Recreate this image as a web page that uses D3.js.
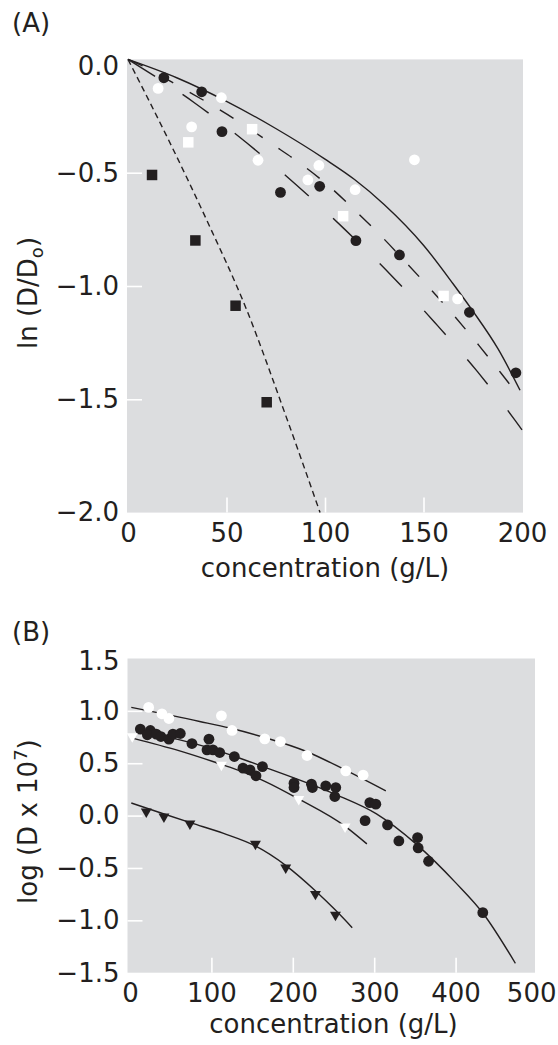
<!DOCTYPE html>
<html>
<head>
<meta charset="utf-8">
<script src="https://cdn.jsdelivr.net/npm/d3@7"></script>
<style>
  body { margin: 0; background: #fff; }
  svg { display: block; }
  text { font-family: "DejaVu Sans", sans-serif; font-size: 26px; fill: #231f20; }
</style>
</head>
<body>
<svg id="fig" width="558" height="1045"></svg>
<script>
// ---------- Panel A: ln(D/Do) against concentration (g/L) ----------
const aBlackCircles = [[18.2,-0.081],[37.4,-0.143],[47.7,-0.319],[77.4,-0.587],[97.3,-0.560],
  [115.7,-0.800],[137.8,-0.863],[173.3,-1.116],[196.9,-1.383]];
const aWhiteCircles = [[15.3,-0.128],[47.4,-0.169],[32.3,-0.298],[66.0,-0.445],[91.3,-0.532],
  [96.9,-0.468],[115.3,-0.575],[145.4,-0.443],[167.3,-1.057]];
const aWhiteSquares = [[30.6,-0.366],[63.0,-0.308],[109.2,-0.692],[160.2,-1.044]];
const aBlackSquares = [[12.2,-0.510],[34.2,-0.799],[54.6,-1.087],[70.4,-1.513]];

// fitted curves (concentration, ln(D/Do))
const aSolidCurve = [[0,0],[25,-0.082],[50,-0.185],[75,-0.305],[100,-0.44],[115,-0.53],[130,-0.64],
  [150,-0.82],[165,-0.99],[175,-1.11],[188,-1.28],[199,-1.46]];
const aMediumDashCurve = [[0,0],[10,-0.04],[26,-0.119],[42.2,-0.2],[57.5,-0.282],[73,-0.373],[87.9,-0.462],
  [103.3,-0.569],[116,-0.673],[129.2,-0.786],[142.2,-0.906],[154,-1.018],[166.3,-1.139],[178.1,-1.262],
  [189.4,-1.385],[198.8,-1.49]];
const aLongDashCurve = [[0,0],[33.5,-0.19],[60.2,-0.368],[85.2,-0.552],[109.9,-0.749],[133.3,-0.95],
  [155.6,-1.16],[177.4,-1.378],[196.5,-1.593],[200,-1.635]];
const aShortDashCurve = [[0,0],[20,-0.345],[40,-0.71],[60,-1.1],[80,-1.57],[97.5,-2.0]];

const aYTicks = [0, -0.5, -1.0, -1.5, -2.0];
const aXTicks = [0, 50, 100, 150, 200];

// ---------- Panel B: log(D x 10^7) against concentration (g/L) ----------
const bWhiteCircles = [[22.9,1.033],[39.2,0.972],[47.8,0.927],[112.3,0.953],[125.3,0.813],[165.5,0.733],
  [184.8,0.707],[217.5,0.574],[265.1,0.427],[286.4,0.386]];
const bBlackCircles = [[12.7,0.826],[25.0,0.813],[21.3,0.772],[32.3,0.778],[38.0,0.755],[47.8,0.730],
  [52.7,0.778],[61.8,0.784],[76.1,0.688],[97.0,0.730],[94.6,0.628],[101.9,0.628],[110.2,0.602],
  [128.2,0.564],[138.8,0.453],[147.4,0.437],[154.8,0.380],[162.7,0.468],[201.5,0.310],[201.5,0.268],
  [222.9,0.300],[224.1,0.268],[240.5,0.284],[252.8,0.268],[251.6,0.182],[294.6,0.124],[302.0,0.109],
  [288.8,-0.048],[316.4,-0.089],[330.3,-0.242],[353.3,-0.210],[354.0,-0.309],[366.8,-0.436],[433.4,-0.927]];
const bWhiteTriangles = [[2.8,0.755],[112.3,0.485],[207.3,0.157],[264.2,-0.105]];
const bBlackTriangles = [[20.0,0.038],[41.7,-0.010],[73.6,-0.076],[154.1,-0.271],[191.3,-0.497],
  [227.8,-0.749],[252.4,-0.949]];

const bWhiteCircleCurve = [[1.6,1.033],[85.6,0.899],[122.5,0.836],[163.4,0.75],[216.8,0.612],
  [261.8,0.446],[314.3,0.236]];
const bBlackCircleCurve = [[10,0.81],[60,0.725],[100,0.64],[122.7,0.581],[163.4,0.468],[253.7,0.198],
  [302.8,0.016],[352,-0.275],[400,-0.64],[433.4,-0.93],[473.4,-1.41]];
const bWhiteTriangleCurve = [[3,0.74],[60,0.62],[112,0.49],[122.5,0.463],[165,0.33],[207,0.16],
  [264,-0.1],[291,-0.27]];
const bBlackTriangleCurve = [[1.6,0.12],[40,0.02],[75,-0.07],[115,-0.17],[154,-0.29],[192,-0.48],
  [228,-0.72],[252,-0.9],[273,-1.07]];

const bYTicks = [1.5, 1.0, 0.5, 0.0, -0.5, -1.0, -1.5];
const bXTicks = [0, 100, 200, 300, 400, 500];

// ---------- drawing ----------
const ink = "#231f20";
const panelFill = "#dcdddf";
const svg = d3.select("#fig");

function drawFrame(x, y, xTicks, yTicks, pad, topLabelShift) {
  const [x0, x1] = x.range();
  const [yTop, yBot] = y.range();
  const g = svg.append("g");
  g.append("rect")
    .attr("x", x0 - pad[0]).attr("y", yTop)
    .attr("width", x1 - x0 + pad[0] + pad[1]).attr("height", yBot - yTop)
    .attr("fill", panelFill);

  const left = x0 - pad[0];
  // white inward ticks on interior values
  g.append("g").attr("transform", `translate(${left},0)`)
    .call(d3.axisLeft(y).tickValues(yTicks.slice(1, -1)).tickSize(-15).tickFormat(""))
    .call(s => { s.select(".domain").remove(); s.selectAll("line").attr("stroke", "#fff").attr("stroke-width", 1.6); });
  g.append("g").attr("transform", `translate(0,${yBot})`)
    .call(d3.axisBottom(x).tickValues(xTicks.slice(1, -1)).tickSize(-15).tickFormat(""))
    .call(s => { s.select(".domain").remove(); s.selectAll("line").attr("stroke", "#fff").attr("stroke-width", 1.6); });

  // tick labels
  const yLab = g.append("g").attr("transform", `translate(${left},0)`)
    .call(d3.axisLeft(y).tickValues(yTicks).tickSize(0).tickPadding(8).tickFormat(d3.format(".1f")))
    .call(s => s.select(".domain").remove());
  // the top label sits a little below its tick, clear of the frame corner
  yLab.selectAll(".tick text").filter((d, i) => i === 0).attr("y", topLabelShift);
  const xLab = g.append("g").attr("transform", `translate(0,${yBot})`)
    .call(d3.axisBottom(x).tickValues(xTicks).tickSize(0).tickPadding(11).tickFormat(d3.format("d")))
    .call(s => s.select(".domain").remove());
  return { g, xLab };
}

function drawCurve(g, x, y, pts, dash) {
  const line = d3.line().x(d => x(d[0])).y(d => y(d[1])).curve(d3.curveMonotoneX);
  g.append("path").datum(pts).attr("d", line)
    .attr("fill", "none").attr("stroke", ink).attr("stroke-width", 1.4)
    .attr("stroke-dasharray", dash || null);
}

function drawCircles(g, x, y, pts, fill) {
  g.append("g").selectAll("circle").data(pts).join("circle")
    .attr("cx", d => x(d[0])).attr("cy", d => y(d[1])).attr("r", 5.4).attr("fill", fill);
}
function drawSquares(g, x, y, pts, fill) {
  const s = 10.5;
  g.append("g").selectAll("rect").data(pts).join("rect")
    .attr("x", d => x(d[0]) - s / 2).attr("y", d => y(d[1]) - s / 2)
    .attr("width", s).attr("height", s).attr("fill", fill);
}
function drawTriangles(g, x, y, pts, fill) {
  const sym = d3.symbol(d3.symbolTriangle, 52);
  g.append("g").selectAll("path").data(pts).join("path")
    .attr("d", sym)
    .attr("transform", d => `translate(${x(d[0])},${y(d[1])}) rotate(180)`)
    .attr("fill", fill);
}

// Panel A
const xA = d3.scaleLinear().domain([0, 200]).range([128, 522]);
const yA = d3.scaleLinear().domain([0, -2]).range([59.4, 512.6]);
const gA = drawFrame(xA, yA, aXTicks, aYTicks, [1, 1], 7).g;
drawCurve(gA, xA, yA, aSolidCurve);
drawCurve(gA, xA, yA, aMediumDashCurve, "16,19");
drawCurve(gA, xA, yA, aLongDashCurve, "32,33");
drawCurve(gA, xA, yA, aShortDashCurve, "6,4");
drawCircles(gA, xA, yA, aBlackCircles, ink);
drawCircles(gA, xA, yA, aWhiteCircles, "#fff");
drawSquares(gA, xA, yA, aWhiteSquares, "#fff");
drawSquares(gA, xA, yA, aBlackSquares, ink);

svg.append("text").attr("x", 12).attr("y", 32).text("(A)");
svg.append("text").attr("text-anchor", "middle")
  .attr("transform", `translate(37,${(yA.range()[0] + yA.range()[1]) / 2 + 7}) rotate(-90)`)
  .call(t => {
    t.append("tspan").text("ln (D/D");
    t.append("tspan").style("font-size", "18px").attr("dy", 6).text("o");
    t.append("tspan").attr("dy", -6).text(")");
  });
svg.append("text").attr("text-anchor", "middle")
  .attr("x", (xA.range()[0] + xA.range()[1]) / 2).attr("y", 577)
  .text("concentration (g/L)");

// Panel B
const xB = d3.scaleLinear().domain([0, 500]).range([130, 537]);
const yB = d3.scaleLinear().domain([1.5, -1.5]).range([658.5, 972.7]);
const frameB = drawFrame(xB, yB, bXTicks, bYTicks, [2.5, -2], 3);
const gB = frameB.g;
// keep the last concentration label inside the page edge
frameB.xLab.selectAll(".tick text").filter(d => d === 500)
  .attr("text-anchor", "end").attr("x", 19);
drawCurve(gB, xB, yB, bWhiteCircleCurve);
drawCurve(gB, xB, yB, bBlackCircleCurve);
drawCurve(gB, xB, yB, bWhiteTriangleCurve);
drawCurve(gB, xB, yB, bBlackTriangleCurve);
drawCircles(gB, xB, yB, bWhiteCircles, "#fff");
drawCircles(gB, xB, yB, bBlackCircles, ink);
drawTriangles(gB, xB, yB, bWhiteTriangles, "#fff");
drawTriangles(gB, xB, yB, bBlackTriangles, ink);

svg.append("text").attr("x", 12).attr("y", 641).text("(B)");
svg.append("text").attr("text-anchor", "middle")
  .attr("transform", `translate(37,${(yB.range()[0] + yB.range()[1]) / 2 + 6}) rotate(-90)`)
  .call(t => {
    t.append("tspan").text("log (D x 10");
    t.append("tspan").style("font-size", "18px").attr("dy", -10).text("7");
    t.append("tspan").attr("dy", 10).text(")");
  });
svg.append("text").attr("text-anchor", "middle")
  .attr("x", (xB.range()[0] + xB.range()[1]) / 2).attr("y", 1033)
  .text("concentration (g/L)");
</script>
</body>
</html>
